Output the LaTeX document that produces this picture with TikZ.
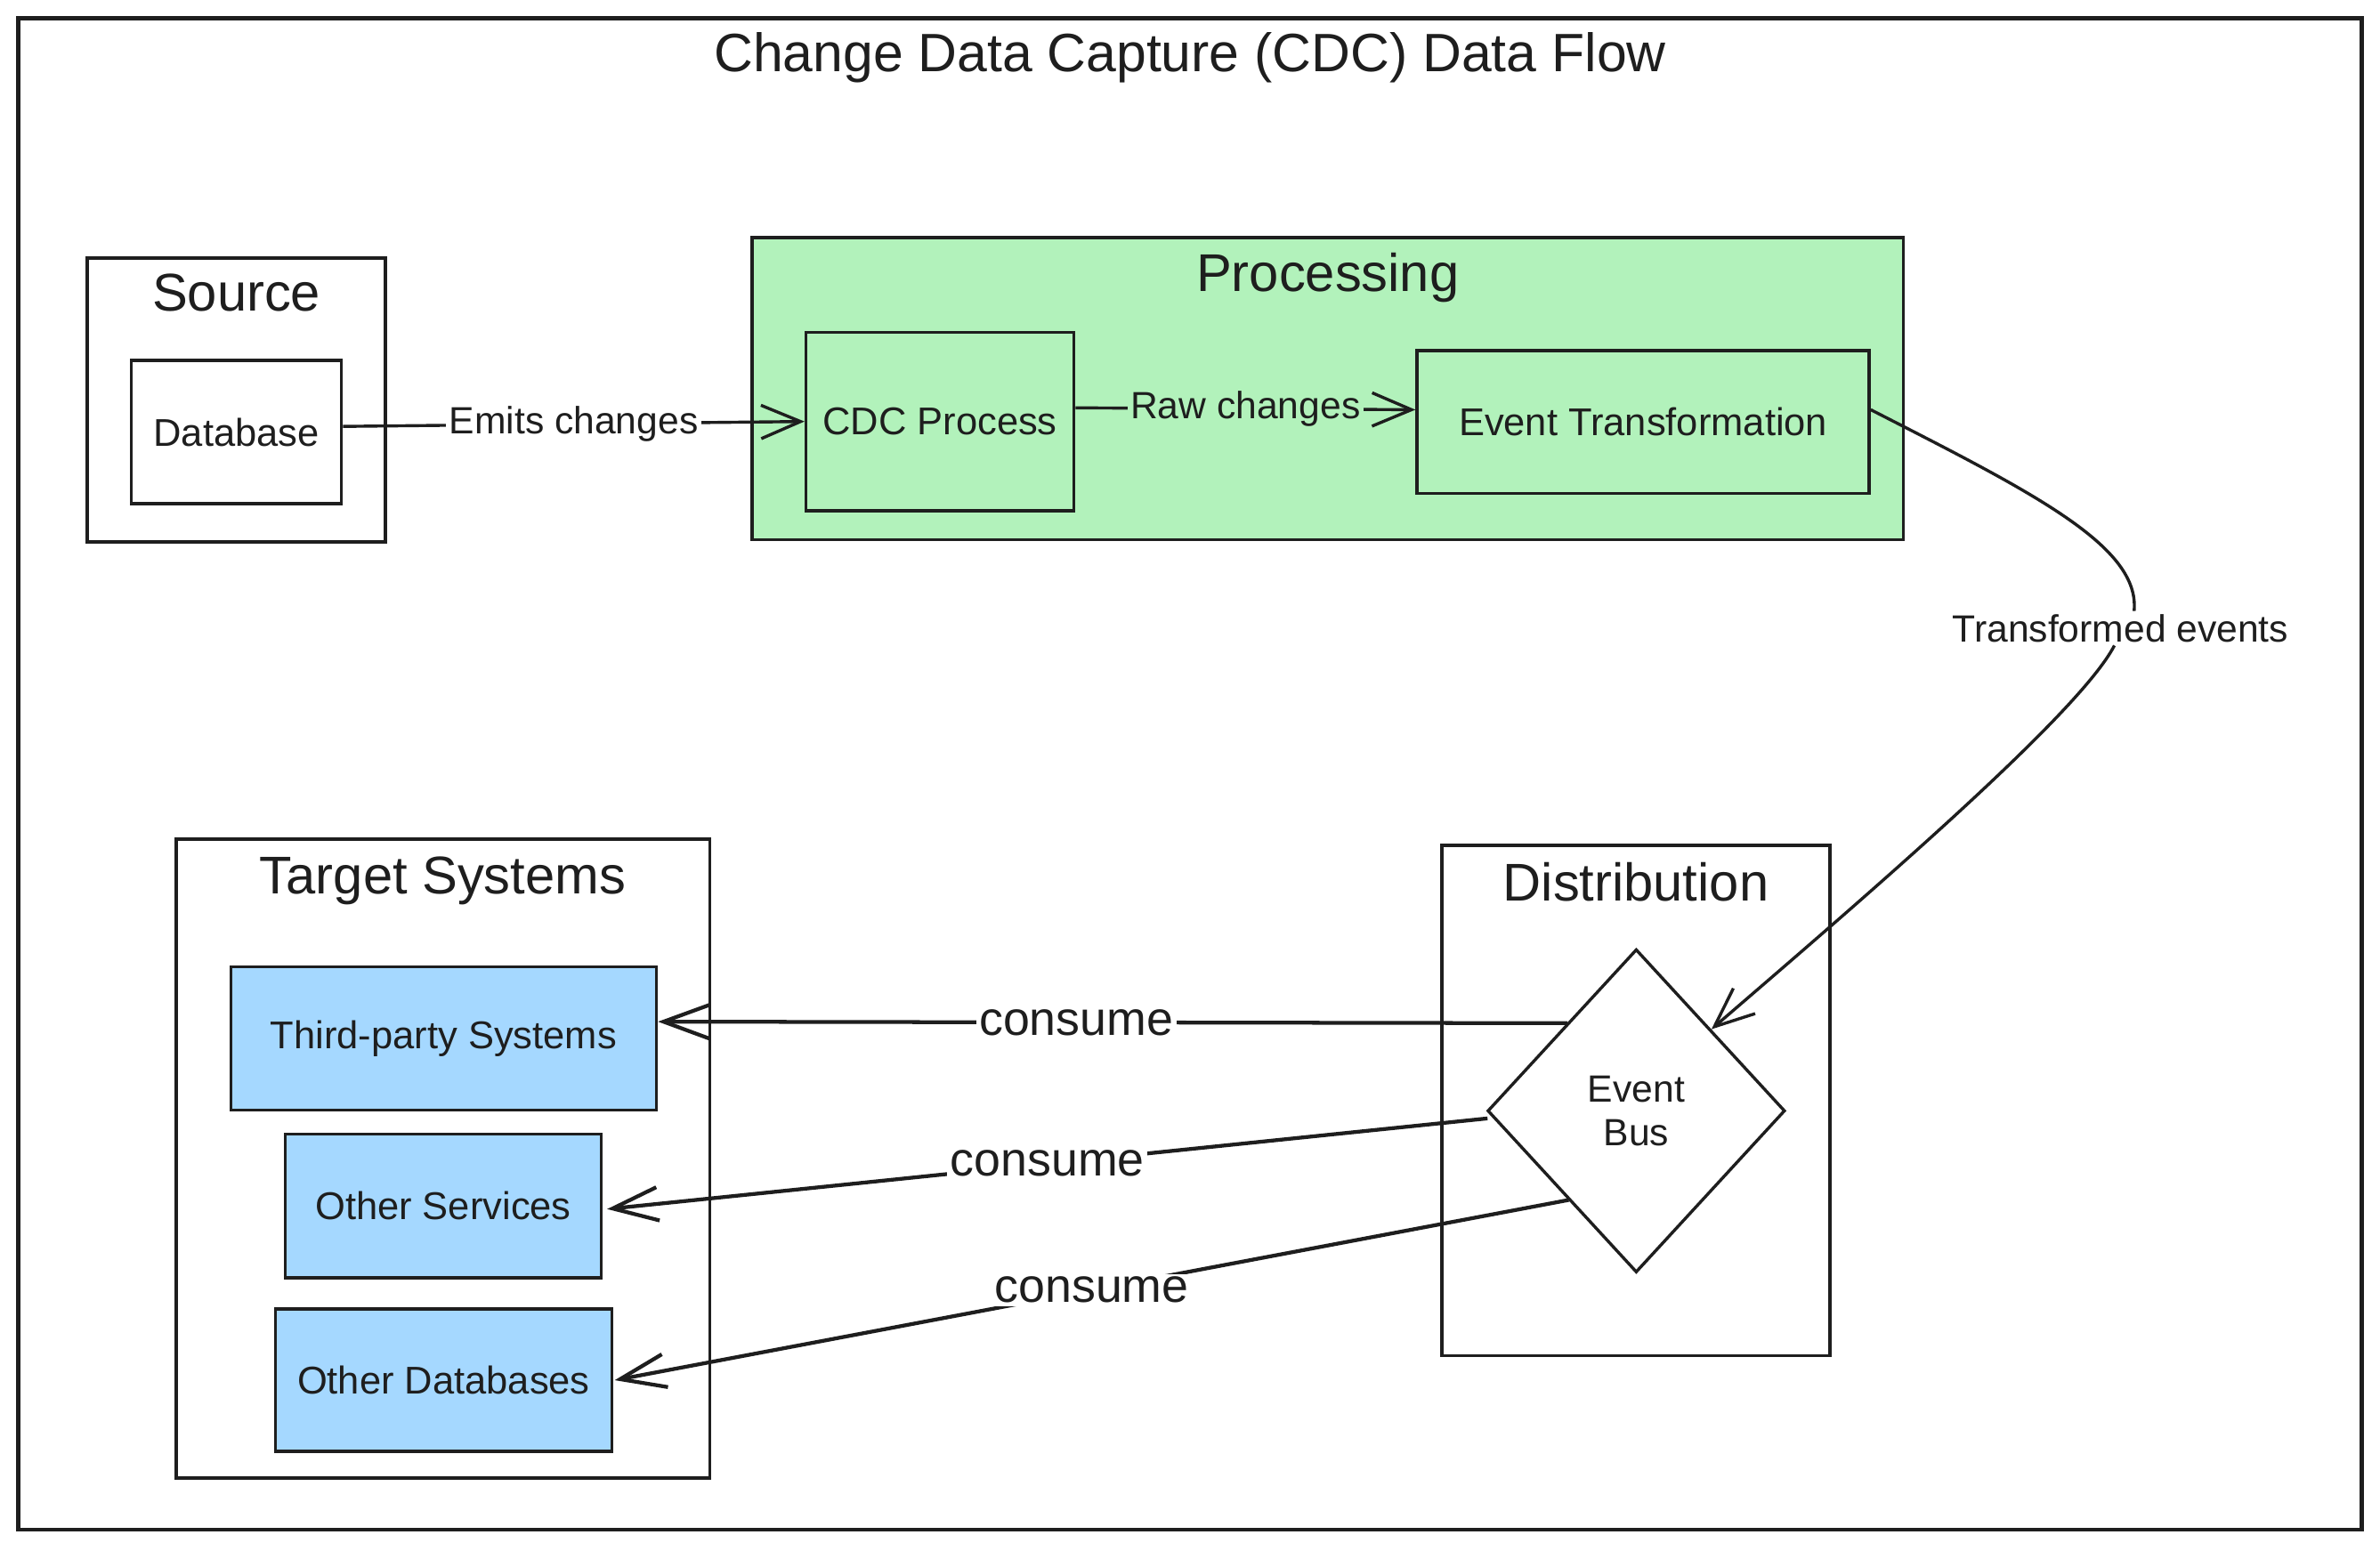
\documentclass[tikz,border=0pt]{standalone}
\usepackage{fontspec}
\setmainfont{Liberation Sans}
\usetikzlibrary{shapes.geometric,arrows.meta}
\definecolor{ink}{HTML}{1E1E1E}
\definecolor{pgreen}{HTML}{B2F2BB}
\definecolor{pblue}{HTML}{A5D8FF}
\begin{document}
\begin{tikzpicture}[x=1pt,y=-1pt,
  frame/.style={draw=ink,line width=2.5pt,rectangle,inner sep=0pt},
  grp/.style={draw=ink,line width=2pt,rectangle,inner sep=0pt},
  box/.style={draw=ink,line width=2pt,rectangle,inner sep=0pt,font=\fontsize{25.5}{30}\selectfont,text=ink},
  ttl/.style={font=\fontsize{35}{40}\selectfont,text=ink,inner sep=0pt,anchor=base},
  conn/.style={draw=ink,line width=2pt},
  arr/.style={-{Straight Barb[length=26pt,width=22pt]}},
  arrc/.style={-{Straight Barb[length=30pt,width=22pt]}},
  elbl/.style={font=\fontsize{25}{30}\selectfont,text=ink,inner sep=2pt},
  clbl/.style={font=\fontsize{31.5}{36}\selectfont,text=ink,inner sep=2pt,fill=white},
]
\useasboundingbox (0,0) rectangle (1568,1021.5);
% outer frame and title
\node[frame,minimum width=1544,minimum height=996] (frame) at (784,510) {};
\node[ttl,font=\fontsize{35.6}{40}\selectfont] (title) at (784,47.2) {Change Data Capture (CDC) Data Flow};

% Source group
\node[grp,minimum width=196.5,minimum height=187] (src) at (155.75,263.5) {};
\node[ttl] (srcT) at (155.75,205) {Source};
\node[box,minimum width=138.5,minimum height=94.5] (db) at (155.75,284.75) {Database};

% Processing group
\node[grp,fill=pgreen,minimum width=758.5,minimum height=199] (proc) at (874.75,256) {};
\node[ttl] (procT) at (874.75,192) {Processing};
\node[box,fill=pgreen,minimum width=176.5,minimum height=117.5] (cdc) at (619.25,277.75) {CDC Process};
\node[box,fill=pgreen,minimum width=298,minimum height=94] (et) at (1082.5,278) {Event Transformation};

% Target systems group
\node[grp,minimum width=351.5,minimum height=421] (tgt) at (291.75,763.5) {};
\node[ttl] (tgtT) at (291.75,589) {Target Systems};
\node[box,fill=pblue,minimum width=280.5,minimum height=94.5] (tp) at (292.25,684.25) {Third-party Systems};
\node[box,fill=pblue,minimum width=208,minimum height=94.5] (os) at (292,794.75) {Other Services};
\node[box,fill=pblue,minimum width=221.5,minimum height=94] (odb) at (292.25,909.5) {Other Databases};

% Distribution group
\node[grp,minimum width=255.5,minimum height=336.5] (dist) at (1077.75,725.25) {};
\node[ttl] (distT) at (1077.75,594) {Distribution};
\node[diamond,draw=ink,line width=2pt,fill=white,inner sep=0pt,aspect=0.92,
      minimum width=196,minimum height=213,align=center,text=ink,
      font=\fontsize{25}{29}\selectfont] (eb) at (1078,732) {Event\\Bus};

% connectors
\draw[conn,arr] ([yshift=3.75pt]db.east) -- node[elbl,fill=white]{Emits changes} (cdc.west);
\draw[conn,arr] ([yshift=9pt]cdc.east) -- node[elbl,fill=pgreen]{Raw changes} ([yshift=8pt]et.west);

\node[elbl,fill=white] (te) at (1397,414) {Transformed events};
\draw[conn] ([yshift=8pt]et.east) .. controls (1340,325) and (1410,360) .. ([xshift=9pt]te.north);
\draw[conn,arr] ([xshift=-4pt]te.south) .. controls (1370,470) and (1230,590) .. (eb.north east);

\draw[conn,line width=2.5pt,arrc] ([xshift=4pt,yshift=4pt]eb.north west) -- node[clbl,pos=0.54]{consume} ([yshift=11pt]tp.east);
\draw[conn,line width=2.5pt,arrc] ([xshift=1pt,yshift=-5pt]eb.west) -- node[clbl]{consume} ([xshift=3pt,yshift=-2pt]os.east);
\draw[conn,line width=2.5pt,arrc] ([xshift=5pt,yshift=-5pt]eb.south west) -- node[clbl]{consume} ([xshift=1pt]odb.east);
\end{tikzpicture}
\end{document}
